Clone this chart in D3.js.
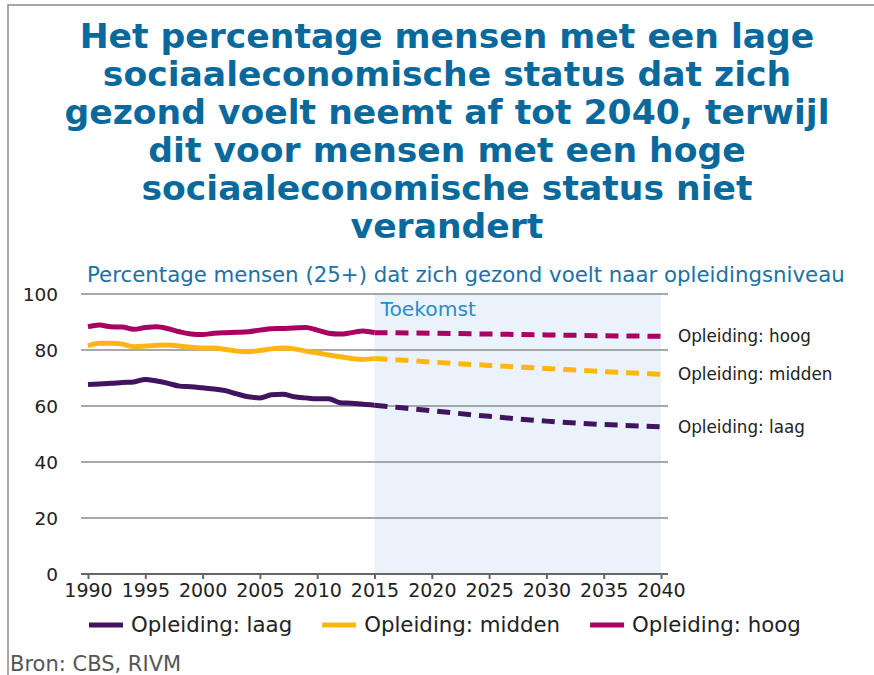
<!DOCTYPE html>
<html>
<head>
<meta charset="utf-8">
<script src="https://cdnjs.cloudflare.com/ajax/libs/d3/7.8.5/d3.min.js"></script>
<style>
  body { margin: 0; background: #fff; }
  text { font-family: "DejaVu Sans", Verdana, sans-serif; }
</style>
</head>
<body>
<div id="chart"></div>
<script>
// title + labels
var titleLines = [
    "Het percentage mensen met een lage",
    "sociaaleconomische status dat zich",
    "gezond voelt neemt af tot 2040, terwijl",
    "dit voor mensen met een hoge",
    "sociaaleconomische status niet",
    "verandert"
];
var subtitle = "Percentage mensen (25+) dat zich gezond voelt naar opleidingsniveau";
var futureLabel = "Toekomst";
var source = "Bron: CBS, RIVM";

var seriesNames = ["Opleiding: laag", "Opleiding: midden", "Opleiding: hoog"];
var seriesColors = ["#42145f", "#ffb612", "#a90061"];

// measured years 1990-2015
var histYears = [1990, 1991, 1992, 1993, 1994, 1995, 1996, 1997, 1998, 1999,
                 2000, 2001, 2002, 2003, 2004, 2005, 2006, 2007, 2008, 2009,
                 2010, 2011, 2012, 2013, 2014, 2015];
var histLaag = [67.7, 67.9, 68.1, 68.4, 68.6, 69.5, 68.9, 68.1, 67.1, 66.9,
                66.5, 66.1, 65.5, 64.3, 63.3, 62.9, 64.0, 64.2, 63.3, 62.9,
                62.6, 62.6, 61.2, 61.0, 60.6, 60.3];
var histMidden = [81.5, 82.4, 82.4, 82.1, 81.2, 81.4, 81.7, 81.8, 81.4, 81.0,
                  80.7, 80.7, 80.2, 79.6, 79.4, 79.8, 80.4, 80.7, 80.4, 79.6,
                  79.0, 78.2, 77.6, 77.0, 76.6, 77.0];
var histHoog = [88.3, 88.9, 88.3, 88.2, 87.4, 88.0, 88.3, 87.6, 86.5, 85.7,
                85.5, 86.0, 86.2, 86.3, 86.5, 87.1, 87.6, 87.7, 87.9, 88.0,
                87.1, 86.0, 85.7, 86.2, 86.8, 86.2];

// projection 2015-2040
var projYears = [2015, 2020, 2025, 2030, 2035, 2040];
var projLaag = [60.3, 58.3, 56.3, 54.6, 53.4, 52.6];
var projMidden = [77.0, 75.7, 74.5, 73.4, 72.3, 71.3];
var projHoog = [86.2, 86.0, 85.7, 85.4, 85.1, 84.9];

var xTicks = [1990, 1995, 2000, 2005, 2010, 2015, 2020, 2025, 2030, 2035, 2040];
var yTicks = [0, 20, 40, 60, 80, 100];

var W = 874, H = 675;
var margin = { top: 294, left: 88, right: 213, bottom: 101 };
var width = W - margin.left - margin.right;
var height = H - margin.top - margin.bottom;

var svg = d3.select("#chart").append("svg")
    .attr("width", W)
    .attr("height", H);

// grey frame on top and left
svg.append("path")
    .attr("d", "M8,675 L8,5 L874,5")
    .attr("fill", "none")
    .attr("stroke", "#8a8a8a")
    .attr("stroke-width", 1.5);

svg.selectAll(".title")
    .data(titleLines)
    .enter().append("text")
    .attr("class", "title")
    .attr("x", 447)
    .attr("y", function(d, i) { return 48 + i * 38; })
    .attr("text-anchor", "middle")
    .attr("font-size", 34.6)
    .attr("font-weight", "bold")
    .attr("fill", "#0a699c")
    .text(function(d) { return d; });

svg.append("text")
    .attr("x", 87)
    .attr("y", 282)
    .attr("font-size", 21.3)
    .attr("fill", "#1a72a6")
    .text(subtitle);

var g = svg.append("g")
    .attr("transform", "translate(" + margin.left + "," + margin.top + ")");

var x = d3.scaleLinear().domain([1990, 2040]).range([0, width]);
var y = d3.scaleLinear().domain([0, 100]).range([height, 0]);

// future shading
g.append("rect")
    .attr("x", x(2015))
    .attr("y", y(100))
    .attr("width", x(2040) - x(2015))
    .attr("height", y(0) - y(100))
    .attr("fill", "#eaf3fb");

g.append("text")
    .attr("x", x(2015) + 6)
    .attr("y", 22)
    .attr("font-size", 20.3)
    .attr("fill", "#2a8ccc")
    .text(futureLabel);

// gridlines
g.selectAll(".grid")
    .data(yTicks.filter(function(d) { return d > 0; }))
    .enter().append("line")
    .attr("class", "grid")
    .attr("x1", -7)
    .attr("x2", width + 7)
    .attr("y1", function(d) { return y(d); })
    .attr("y2", function(d) { return y(d); })
    .attr("stroke", "#8c8c8c")
    .attr("stroke-width", 1.5);

// y labels
g.selectAll(".ylab")
    .data(yTicks)
    .enter().append("text")
    .attr("class", "ylab")
    .attr("x", -30)
    .attr("y", function(d) { return y(d); })
    .attr("dy", "0.36em")
    .attr("text-anchor", "end")
    .attr("font-size", 18.5)
    .attr("fill", "#222")
    .text(function(d) { return d; });

// x axis
var xAxis = g.append("g")
    .attr("transform", "translate(0," + height + ")")
    .call(d3.axisBottom(x).tickValues(xTicks).tickFormat(d3.format("d")).tickSize(5).tickSizeOuter(0));
xAxis.select(".domain").remove();
xAxis.append("line")
    .attr("x1", -7).attr("x2", width + 7)
    .attr("stroke", "#666").attr("stroke-width", 2);
xAxis.selectAll(".tick line").attr("stroke", "#666").attr("stroke-width", 2);
xAxis.selectAll(".tick text")
    .attr("y", 10)
    .attr("font-family", "DejaVu Sans, Verdana, sans-serif")
    .attr("font-size", 19)
    .attr("fill", "#222");

var line = d3.line()
    .x(function(d) { return x(d[0]); })
    .y(function(d) { return y(d[1]); })
    .curve(d3.curveMonotoneX);

var hist = [histLaag, histMidden, histHoog];
var proj = [projLaag, projMidden, projHoog];

hist.forEach(function(vals, i) {
    var pts = histYears.map(function(yr, j) { return [yr, vals[j]]; });
    g.append("path")
        .attr("d", line(pts))
        .attr("fill", "none")
        .attr("stroke", seriesColors[i])
        .attr("stroke-width", 5)
        .attr("stroke-linejoin", "round");
});

proj.forEach(function(vals, i) {
    var pts = projYears.map(function(yr, j) { return [yr, vals[j]]; });
    g.append("path")
        .attr("d", line(pts))
        .attr("fill", "none")
        .attr("stroke", seriesColors[i])
        .attr("stroke-width", 5)
        .attr("stroke-dasharray", "13,8");
});

// end labels
proj.forEach(function(vals, i) {
    g.append("text")
        .attr("x", width + 17)
        .attr("y", y(vals[vals.length - 1]))
        .attr("dy", "0.35em")
        .attr("font-size", 16.8)
        .attr("fill", "#222")
        .text(seriesNames[i]);
});

// legend at the bottom
var legend = svg.append("g").attr("transform", "translate(0,625)");
var lx = 89;
seriesNames.forEach(function(name, i) {
    var item = legend.append("g").attr("transform", "translate(" + lx + ",0)");
    item.append("line")
        .attr("x1", 0).attr("x2", 34)
        .attr("stroke", seriesColors[i])
        .attr("stroke-width", 5);
    var t = item.append("text")
        .attr("x", 42)
        .attr("dy", "0.35em")
        .attr("font-size", 21.3)
        .attr("fill", "#222")
        .text(name);
    lx += 42 + t.node().getComputedTextLength() + 30;
});

svg.append("text")
    .attr("x", 10)
    .attr("y", 671)
    .attr("font-size", 21)
    .attr("fill", "#555")
    .text(source);
</script>
</body>
</html>
